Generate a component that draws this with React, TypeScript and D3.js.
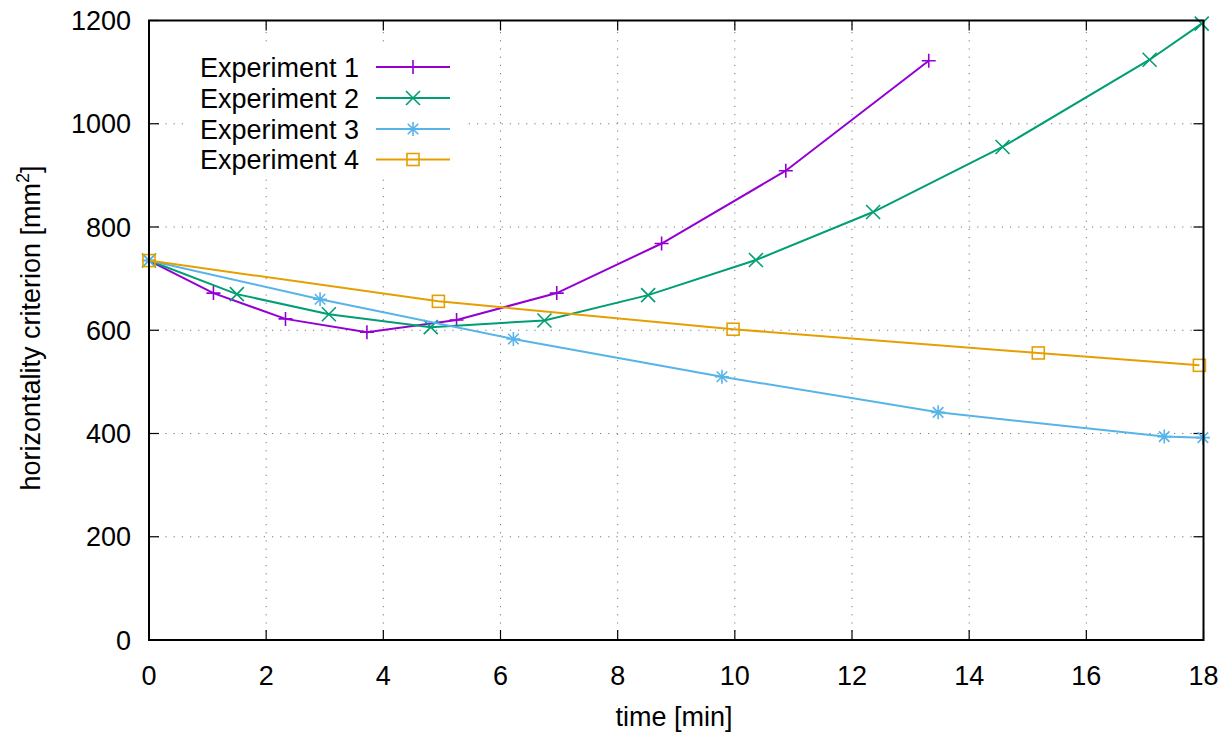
import React from "react";
import * as d3 from "d3";

const xTicks = [0, 2, 4, 6, 8, 10, 12, 14, 16, 18];
const yTicks = [0, 200, 400, 600, 800, 1000, 1200];

const seriesNames = ["Experiment 1", "Experiment 2", "Experiment 3", "Experiment 4"];
const seriesColors = ["#9400d3", "#009e73", "#56b4e9", "#e69f00"];
const seriesMarkers = ["plus", "cross", "star", "square"];

const exp1X = [0, 1.10, 2.33, 3.72, 5.25, 6.96, 8.75, 10.87, 13.31];
const exp1Y = [735, 672, 622, 596, 620, 672, 768, 909, 1122];
const exp2X = [0, 1.50, 3.07, 4.81, 6.75, 8.52, 10.36, 12.36, 14.57, 17.08, 17.97];
const exp2Y = [735, 670, 631, 606, 619, 668, 736, 829, 955, 1124, 1194];
const exp3X = [0, 2.92, 6.22, 9.78, 13.47, 17.33, 17.99];
const exp3Y = [735, 660, 583, 510, 441, 394, 392];
const exp4X = [0, 4.94, 9.97, 15.18, 17.93];
const exp4Y = [735, 656, 602, 556, 532];

const seriesX = [exp1X, exp2X, exp3X, exp4X];
const seriesY = [exp1Y, exp2Y, exp3Y, exp4Y];

const W = 1227, H = 733;
const L = 149, R = 1203.5, T = 20.5, B = 640;
const FONT = "'Liberation Sans', Arial, sans-serif";
const FS = 27;

function Marker({ type, x, y, color }: { type: string; x: number; y: number; color: string }) {
  const s = 7;
  const sw = 1.6;
  if (type === "plus")
    return <path d={`M${x - s},${y}H${x + s}M${x},${y - s}V${y + s}`} stroke={color} strokeWidth={sw} fill="none" />;
  if (type === "cross")
    return <path d={`M${x - s},${y - s}L${x + s},${y + s}M${x - s},${y + s}L${x + s},${y - s}`} stroke={color} strokeWidth={sw} fill="none" />;
  if (type === "star")
    return (
      <path
        d={`M${x - s},${y}H${x + s}M${x},${y - s}V${y + s}M${x - s * 0.75},${y - s * 0.75}L${x + s * 0.75},${y + s * 0.75}M${x - s * 0.75},${y + s * 0.75}L${x + s * 0.75},${y - s * 0.75}`}
        stroke={color}
        strokeWidth={sw}
        fill="none"
      />
    );
  return <rect x={x - 6} y={y - 6} width={12} height={12} stroke={color} strokeWidth={sw} fill="none" />;
}

export default function App() {
  const x = d3.scaleLinear().domain([0, 18]).range([L, R]);
  const y = d3.scaleLinear().domain([0, 1200]).range([B, T]);
  const line = d3
    .line<[number, number]>()
    .x((d) => x(d[0]))
    .y((d) => y(d[1]));

  const tickLen = 10;
  const legendRows = [67, 98, 129, 159.5];

  return (
    <svg width={W} height={H} style={{ position: "absolute", left: 0, top: 0, background: "#fff" }} fontFamily={FONT}>
      <rect x={0} y={0} width={W} height={H} fill="#fff" />
      {xTicks.slice(1, -1).map((t) => (
        <line key={"gx" + t} x1={x(t)} x2={x(t)} y1={B} y2={T} stroke="#777" strokeWidth={1} strokeDasharray="1.2,7" />
      ))}
      {yTicks.slice(1, -1).map((t) => (
        <line key={"gy" + t} x1={L} x2={R} y1={y(t)} y2={y(t)} stroke="#777" strokeWidth={1} strokeDasharray="1.2,7" />
      ))}
      <rect x={186} y={47} width={276} height={126} fill="#fff" />
      {xTicks.map((t) => (
        <g key={"tx" + t}>
          <line x1={x(t)} x2={x(t)} y1={B} y2={B - tickLen} stroke="#000" strokeWidth={1.2} />
          <line x1={x(t)} x2={x(t)} y1={T} y2={T + tickLen} stroke="#000" strokeWidth={1.2} />
          <text x={x(t)} y={685} textAnchor="middle" fontSize={FS} fill="#000">
            {t}
          </text>
        </g>
      ))}
      {yTicks.map((t) => (
        <g key={"ty" + t}>
          <line x1={L} x2={L + tickLen} y1={y(t)} y2={y(t)} stroke="#000" strokeWidth={1.2} />
          <line x1={R} x2={R - tickLen} y1={y(t)} y2={y(t)} stroke="#000" strokeWidth={1.2} />
          <text x={131} y={y(t) + 9.5} textAnchor="end" fontSize={FS} fill="#000">
            {t}
          </text>
        </g>
      ))}
      {seriesX.map((xs, i) => {
        const pts: [number, number][] = xs.map((v, j) => [v, seriesY[i][j]]);
        return (
          <g key={"s" + i}>
            <path d={line(pts) || ""} fill="none" stroke={seriesColors[i]} strokeWidth={2} />
            {pts.map((p, j) => (
              <Marker key={j} type={seriesMarkers[i]} x={x(p[0])} y={y(p[1])} color={seriesColors[i]} />
            ))}
          </g>
        );
      })}
      <rect x={L} y={T} width={R - L} height={B - T} fill="none" stroke="#000" strokeWidth={2} />
      {seriesNames.map((n, i) => (
        <g key={"l" + i}>
          <text x={359} y={legendRows[i] + 9.5} textAnchor="end" fontSize={FS} fill="#000">
            {n}
          </text>
          <line x1={376} x2={450} y1={legendRows[i]} y2={legendRows[i]} stroke={seriesColors[i]} strokeWidth={2} />
          <Marker type={seriesMarkers[i]} x={413} y={legendRows[i]} color={seriesColors[i]} />
        </g>
      ))}
      <text x={674} y={726} textAnchor="middle" fontSize={FS} fill="#000">
        time [min]
      </text>
      <text transform="translate(40,328) rotate(-90)" textAnchor="middle" fontSize={FS} fill="#000">
        horizontality criterion [mm<tspan dy={-11} fontSize={18}>2</tspan>
        <tspan dy={11}>]</tspan>
      </text>
    </svg>
  );
}
